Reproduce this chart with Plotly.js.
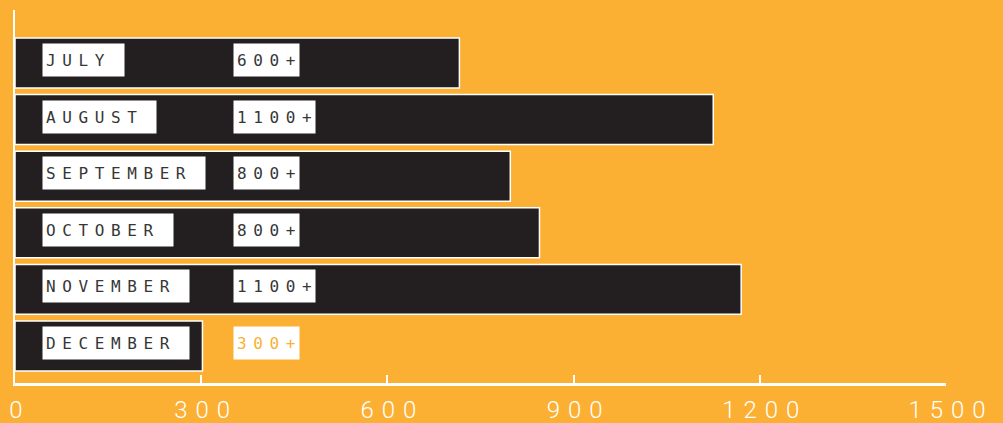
<!DOCTYPE html>
<html><head><meta charset="utf-8">
<script src="https://cdn.plot.ly/plotly-3.0.1.min.js"></script>
<style>
html,body{margin:0;padding:0;background:#FBB034;}
.annotation-text{letter-spacing:6.6px;}
.xtick text{letter-spacing:8px;}
</style></head>
<body><div id="chart" style="width:1003px;height:423px;"></div>
<script>
const months = ["JULY","AUGUST","SEPTEMBER","OCTOBER","NOVEMBER","DECEMBER"];
const visitors = [716, 1125, 798, 845, 1170, 302];
const valueLabels = ["600+","1100+","800+","800+","1100+","300+"];
const tickValues = [0, 300, 600, 900, 1200, 1500];
const tickLabels = ["0","300","600","900","1200","1500"];

const ORANGE = "#FBB034";
const DARK = "#231F20";
const CELL = 16.2;
const PAD = 3;

const annotations = [];
months.forEach((m, i) => {
  annotations.push({
    x: 0, y: m, xref: "x", yref: "y", xanchor: "left", yanchor: "middle",
    xshift: 26.5, yshift: 3, showarrow: false, align: "left",
    text: m, bgcolor: "#ffffff", borderpad: PAD,
    width: (m.length + 1) * CELL - 2 * PAD, height: 32 - 2 * PAD,
    font: {family: "DejaVu Sans Mono", size: 16, color: "#363636"}
  });
  const v = valueLabels[i];
  annotations.push({
    x: 0, y: m, xref: "x", yref: "y", xanchor: "left", yanchor: "middle",
    xshift: 218, yshift: 3, showarrow: false, align: "left",
    text: v, bgcolor: "#ffffff", borderpad: PAD,
    width: v.length * CELL - 2 * PAD, height: 32 - 2 * PAD,
    font: {family: "DejaVu Sans Mono", size: 16, color: i === months.length - 1 ? ORANGE : "#363636"}
  });
});

const data = [{
  type: "bar", orientation: "h",
  x: visitors, y: months,
  marker: {color: DARK, line: {color: "#ffffff", width: 1.5}},
  hoverinfo: "skip"
}];

const layout = {
  width: 1003, height: 423,
  margin: {l: 15, r: 57, t: 10, b: 40, pad: 0},
  paper_bgcolor: ORANGE, plot_bgcolor: ORANGE,
  bargap: 0.117,
  showlegend: false,
  xaxis: {
    range: [0, 1500], tickvals: tickValues, ticktext: tickLabels,
    showgrid: false, zeroline: false,
    showline: true, linecolor: "#ffffff", linewidth: 2.5,
    ticks: "inside", ticklen: 8, tickwidth: 2, tickcolor: "#ffffff",
    tickfont: {family: "Roboto", weight: 300, size: 24, color: "#ffffff"},
    ticklabelstandoff: 4, ticklabelshift: 5,
    fixedrange: true
  },
  yaxis: {
    type: "category", categoryorder: "array", categoryarray: months,
    range: [5.654, -0.936],
    showticklabels: false, ticks: "", showgrid: false, zeroline: false,
    showline: true, linecolor: "#ffffff", linewidth: 2.5,
    fixedrange: true
  },
  annotations: annotations
};

Plotly.newPlot("chart", data, layout, {displayModeBar: false, staticPlot: true});
</script>
</body></html>
